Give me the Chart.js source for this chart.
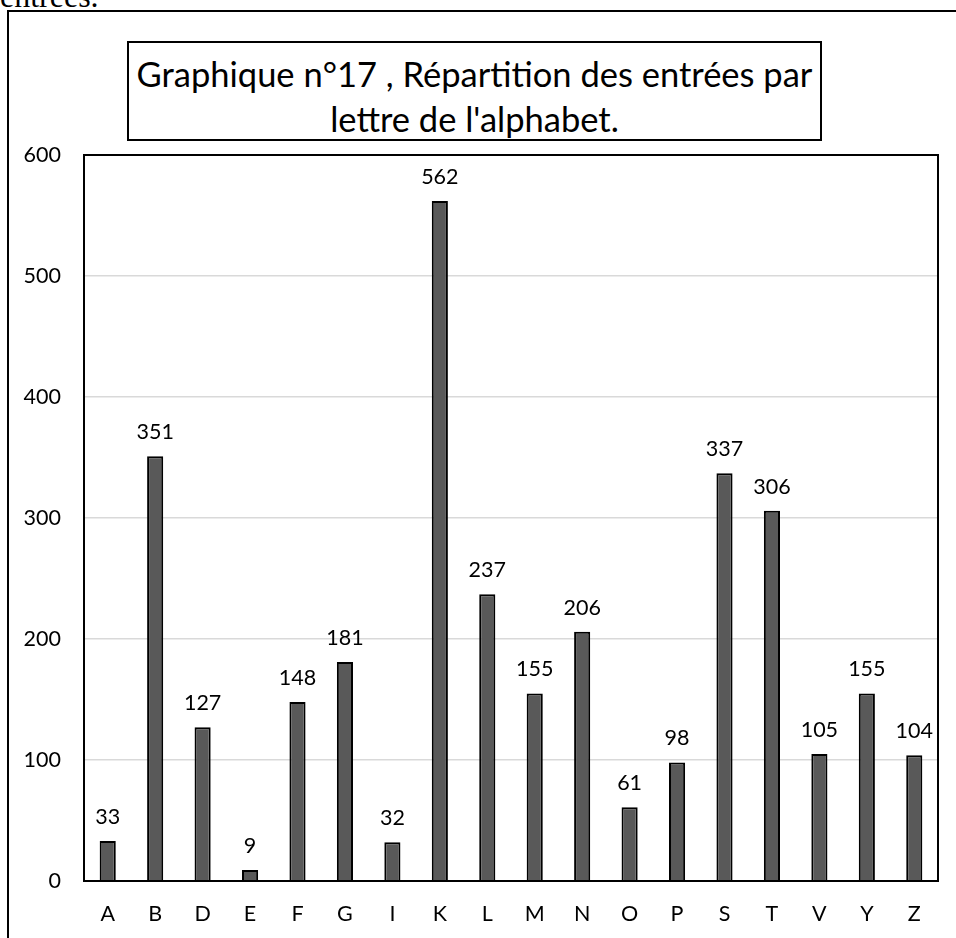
<!DOCTYPE html>
<html lang="fr">
<head>
<meta charset="utf-8">
<title>Répartition des entrées par lettre de l'alphabet</title>
<script src="https://cdn.jsdelivr.net/npm/chart.js@4/dist/chart.umd.min.js"></script>
<style>
  html, body { margin: 0; padding: 0; background: #fff; overflow: hidden; }
  body { width: 956px; height: 938px; position: relative; }
  #lead {
    position: absolute; left: 0; top: -22px;
    font-family: "Liberation Serif", "DejaVu Serif", serif;
    font-size: 32px; line-height: 36px; color: #000; white-space: nowrap;
  }
  #frame {
    position: absolute; left: 7px; top: 10px; width: 1000px; height: 1000px;
    border: 2px solid #000; box-sizing: border-box;
  }
  #chart { position: absolute; left: 0; top: 0; }
  #title {
    position: absolute; left: 127px; top: 41px; width: 695px; height: 100px;
    border: 2px solid #000; box-sizing: border-box; background: #fff;
    font-family: Lato, "Open Sans", sans-serif; font-size: 34.5px; line-height: 45px;
    text-align: center; color: #000; padding-top: 8px;
  }
</style>
</head>
<body>
<div id="lead">entrées.</div>
<div id="frame"></div>
<canvas id="chart" width="956" height="938"></canvas>
<div id="title">Graphique n°17 , Répartition des entrées par<br>lettre de l'alphabet.</div>
<script>
// Letters of the alphabet and number of entries for each one
const letters = ['A','B','D','E','F','G','I','K','L','M','N','O','P','S','T','V','Y','Z'];
const entries = [33, 351, 127, 9, 148, 181, 32, 562, 237, 155, 206, 61, 98, 337, 306, 105, 155, 104];
const yTicks = [0, 100, 200, 300, 400, 500, 600];

const FONT = 'Lato, "Open Sans", sans-serif';

// Value labels above each bar
const valueLabels = {
  id: 'valueLabels',
  afterDatasetsDraw(chart) {
    const ctx = chart.ctx;
    const meta = chart.getDatasetMeta(0);
    ctx.save();
    ctx.font = '21.5px ' + FONT;
    ctx.fillStyle = '#000';
    ctx.textAlign = 'center';
    ctx.textBaseline = 'middle';
    meta.data.forEach((bar, i) => {
      ctx.fillText(String(entries[i]), bar.x, bar.y - 24);
    });
    ctx.restore();
  }
};

// Black frame round the plot area
const plotFrame = {
  id: 'plotFrame',
  afterDraw(chart) {
    const a = chart.chartArea;
    const ctx = chart.ctx;
    ctx.save();
    ctx.strokeStyle = '#000';
    ctx.lineWidth = 2;
    ctx.strokeRect(a.left, a.top, a.right - a.left, a.bottom - a.top);
    ctx.restore();
  }
};

new Chart(document.getElementById('chart'), {
  type: 'bar',
  data: {
    labels: letters,
    datasets: [{
      data: entries,
      backgroundColor: '#595959',
      borderColor: '#000',
      borderWidth: 2,
      barPercentage: 0.34,
      categoryPercentage: 1
    }]
  },
  options: {
    responsive: false,
    animation: false,
    devicePixelRatio: 1,
    layout: { padding: { left: 0, top: 155, right: 18, bottom: 12 } },
    plugins: { legend: { display: false }, tooltip: { enabled: false }, title: { display: false } },
    scales: {
      x: {
        grid: { display: false, drawTicks: false },
        border: { display: false },
        ticks: { color: '#000', font: { family: FONT, size: 21.5 }, padding: 20 },
        afterFit(scale) { scale.height = 45; }
      },
      y: {
        min: 0, max: 600,
        afterBuildTicks(scale) { scale.ticks = yTicks.map(v => ({ value: v })); },
        grid: { color: '#d9d9d9', lineWidth: 1.5, drawTicks: false },
        border: { display: false },
        ticks: { color: '#000', font: { family: FONT, size: 21.5 }, padding: 23 },
        afterFit(scale) { scale.width = 84; }
      }
    }
  },
  plugins: [valueLabels, plotFrame]
});
</script>
</body>
</html>
